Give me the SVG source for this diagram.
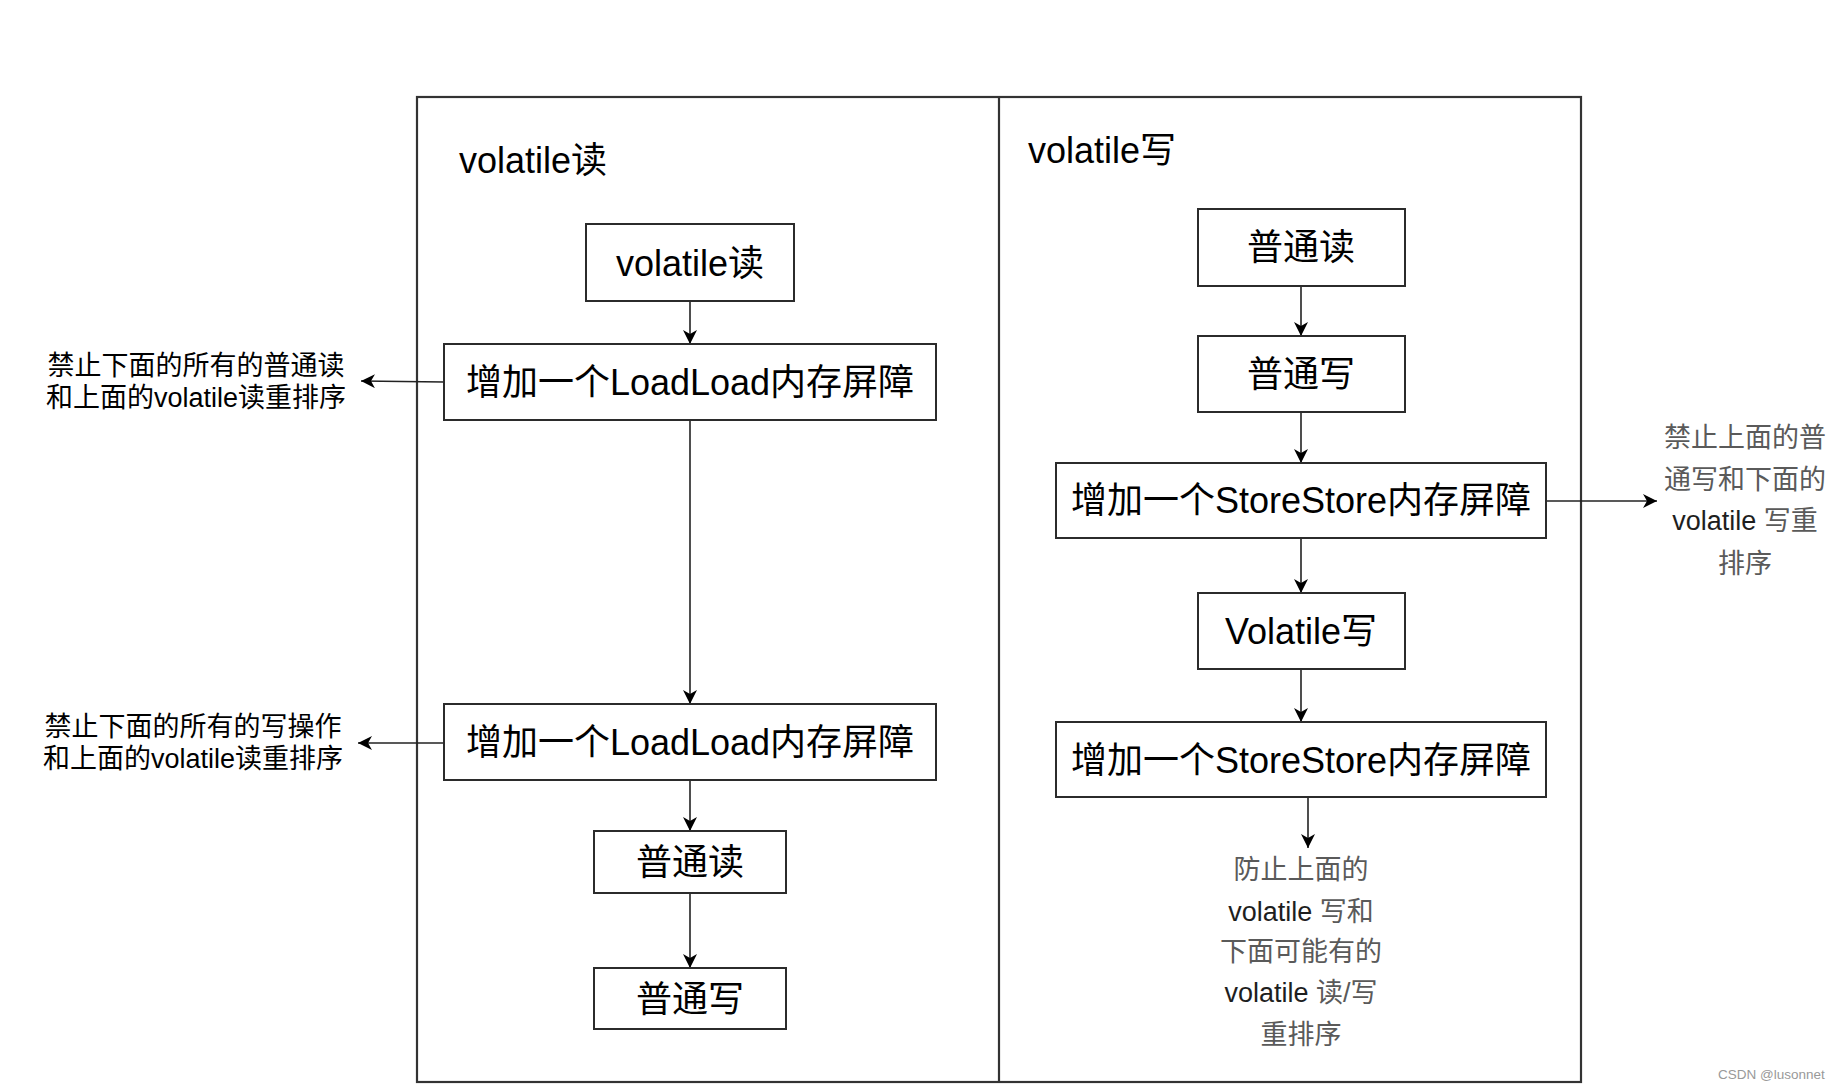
<svg xmlns="http://www.w3.org/2000/svg" width="1838" height="1089" viewBox="0 0 1838 1089">
<defs>
<style>
.box{fill:#fff;stroke:#2b2b2b;stroke-width:2}
.frame{fill:none;stroke:#333;stroke-width:2.2}
.t{font-family:"Liberation Sans","Noto Sans CJK SC",sans-serif;font-size:36px;fill:#000;dominant-baseline:central}
.c{text-anchor:middle}
.note{font-family:"Liberation Sans","Noto Sans CJK SC",sans-serif;font-size:27px;fill:#000;dominant-baseline:central;text-anchor:middle}
.gray{font-family:"Liberation Sans","Noto Sans CJK SC",sans-serif;font-size:27px;fill:#5a5a5a;dominant-baseline:central;text-anchor:middle}
.lat{fill:#1e1e1e}
.wm{font-family:"Liberation Sans",sans-serif;font-size:13.5px;fill:#999;dominant-baseline:central}
.edge{fill:none;stroke:#222;stroke-width:1.6;marker-end:url(#arr)}
</style>
<marker id="arr" viewBox="0 0 14 14" refX="14" refY="7" markerWidth="14" markerHeight="14" markerUnits="userSpaceOnUse" orient="auto">
<path d="M0,0 L14,7 L0,14 L4,7 Z" fill="#000"/>
</marker>
</defs>
<rect width="1838" height="1089" fill="#fff"/>

<g id="frame">
<rect class="frame" x="417" y="97" width="1164" height="985"/>
<line class="frame" x1="999" y1="97" x2="999" y2="1082"/>
</g>

<g id="title-read"><text class="t" x="459" y="160">volatile读</text></g>
<g id="title-write"><text class="t" x="1028" y="150">volatile写</text></g>

<g id="connectors">
<line class="edge" x1="690" y1="301" x2="690" y2="344"/>
<line class="edge" x1="690" y1="420" x2="690" y2="704"/>
<line class="edge" x1="690" y1="780" x2="690" y2="831"/>
<line class="edge" x1="690" y1="893" x2="690" y2="968"/>
<line class="edge" x1="444" y1="382" x2="361" y2="381"/>
<line class="edge" x1="444" y1="743" x2="358" y2="743"/>
<line class="edge" x1="1301" y1="286" x2="1301" y2="336"/>
<line class="edge" x1="1301" y1="412" x2="1301" y2="463"/>
<line class="edge" x1="1301" y1="538" x2="1301" y2="593"/>
<line class="edge" x1="1301" y1="669" x2="1301" y2="722"/>
<line class="edge" x1="1546" y1="501" x2="1657" y2="501"/>
<line class="edge" x1="1308" y1="797" x2="1308" y2="848"/>
</g>

<g id="n-vread"><rect class="box" x="586" y="224" width="208" height="77"/><text class="t c" x="690" y="263">volatile读</text></g>
<g id="n-ll1"><rect class="box" x="444" y="344" width="492" height="76"/><text class="t c" x="690" y="382">增加一个LoadLoad内存屏障</text></g>
<g id="n-ll2"><rect class="box" x="444" y="704" width="492" height="76"/><text class="t c" x="690" y="742">增加一个LoadLoad内存屏障</text></g>
<g id="n-read1"><rect class="box" x="594" y="831" width="192" height="62"/><text class="t c" x="690" y="862">普通读</text></g>
<g id="n-write1"><rect class="box" x="594" y="968" width="192" height="61"/><text class="t c" x="690" y="999">普通写</text></g>

<g id="note-l1"><text class="note" x="196" y="366">禁止下面的所有的普通读</text><text class="note" x="196" y="398">和上面的volatile读重排序</text></g>
<g id="note-l2"><text class="note" x="193" y="727">禁止下面的所有的写操作</text><text class="note" x="193" y="759">和上面的volatile读重排序</text></g>

<g id="n-read2"><rect class="box" x="1198" y="209" width="207" height="77"/><text class="t c" x="1301" y="247">普通读</text></g>
<g id="n-write2"><rect class="box" x="1198" y="336" width="207" height="76"/><text class="t c" x="1301" y="374">普通写</text></g>
<g id="n-ss1"><rect class="box" x="1056" y="463" width="490" height="75"/><text class="t c" x="1301" y="500">增加一个StoreStore内存屏障</text></g>
<g id="n-vwrite"><rect class="box" x="1198" y="593" width="207" height="76"/><text class="t c" x="1301" y="631">Volatile写</text></g>
<g id="n-ss2"><rect class="box" x="1056" y="722" width="490" height="75"/><text class="t c" x="1301" y="760">增加一个StoreStore内存屏障</text></g>

<g id="note-r"><text class="gray" x="1745" y="438">禁止上面的普</text><text class="gray" x="1745" y="480">通写和下面的</text><text class="gray" x="1745" y="521"><tspan class="lat">volatile</tspan> 写重</text><text class="gray" x="1745" y="564">排序</text></g>
<g id="note-b"><text class="gray" x="1301" y="870">防止上面的</text><text class="gray" x="1301" y="912"><tspan class="lat">volatile</tspan> 写和</text><text class="gray" x="1301" y="952">下面可能有的</text><text class="gray" x="1301" y="993"><tspan class="lat">volatile</tspan> 读/写</text><text class="gray" x="1301" y="1035">重排序</text></g>

<text class="wm" x="1718" y="1074">CSDN @lusonnet</text>
</svg>
